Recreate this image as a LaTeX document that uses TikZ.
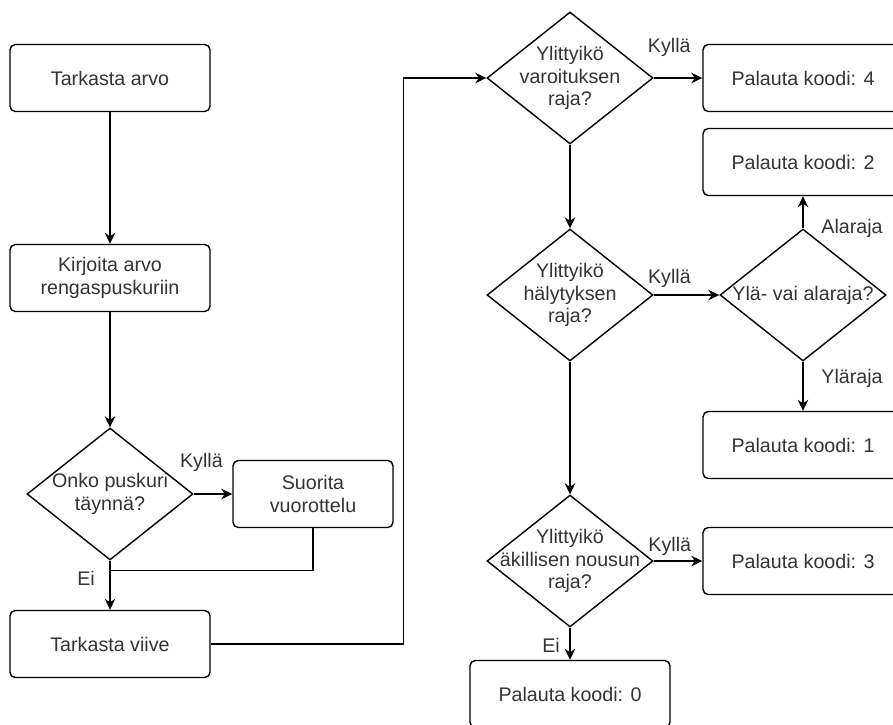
\documentclass[tikz,border=0pt]{standalone}
\usepackage{fontspec}
\setmainfont{Liberation Sans}
\usepackage{tikz}
\usetikzlibrary{arrows.meta, positioning, shapes.geometric}
\definecolor{ink}{HTML}{333333}
\newcommand{\flowfont}{\fontsize{11.2}{13}\selectfont}

\begin{document}
\begin{tikzpicture}[
  on grid,
  box/.style={draw, line width=0.8pt, rounded corners=3pt, minimum width=4cm, minimum height=1.34cm, align=center, font=\flowfont, text=ink},
  decision/.style={draw, line width=0.8pt, diamond, minimum width=3.32cm, minimum height=2.64cm, inner sep=0pt},
  dtext/.style={align=center, font=\flowfont, text=ink, inner sep=0pt},
  lbl/.style={font=\flowfont, text=ink, inner sep=1pt},
  arrow/.style={-{Stealth[length=2.2mm, width=2.1mm, inset=0.7mm]}, line width=0.8pt},
  link/.style={line width=0.8pt}
]
\useasboundingbox (0,0) rectangle (17.86,-14.48);
\clip (0,0) rectangle (17.86,-14.48);

% left column
\node[box] (check) at (2.2,-1.56) {Tarkasta arvo};
\node[box, below=4cm of check] (write) {Kirjoita arvo\\rengaspuskuriin};
\node[decision, below=4.32cm of write, label={[dtext]center:Onko puskuri\\täynnä?}] (full) {};
\node[box, right=4.06cm of full, minimum width=3.2cm] (rotate) {Suorita\\vuorottelu};
\node[box, below=3cm of full] (delay) {Tarkasta viive};

% right column
\node[decision, right=9.2cm of check, label={[dtext]center:Ylittyikö\\varoituksen\\raja?}] (warn) {};
\node[box, right=4.66cm of warn] (code4) {Palauta koodi: 4};
\node[box, below=1.68cm of code4] (code2) {Palauta koodi: 2};
\node[decision, below=4.34cm of warn, label={[dtext]center:Ylittyikö\\hälytyksen\\raja?}] (alarm) {};
\node[decision, right=4.66cm of alarm, label={[dtext]center:Ylä- vai alaraja?}] (limit) {};
\node[box, below=3cm of limit] (code1) {Palauta koodi: 1};
\node[decision, below=5.32cm of alarm, label={[dtext]center:Ylittyikö\\äkillisen nousun\\raja?}] (spike) {};
\node[box, right=4.66cm of spike] (code3) {Palauta koodi: 3};
\node[box, below=2.66cm of spike] (code0) {Palauta koodi: 0};

% connectors
\draw[arrow] (check) -- (write);
\draw[arrow] (write) -- (full);
\draw[arrow] (full) -- node[lbl, pos=0.2, yshift=0.64cm] {Kyllä} (rotate);
\draw[arrow] (full) -- node[lbl, pos=0.35, xshift=-0.48cm] {Ei} (delay);
\draw[link] (rotate.south) |- ([yshift=-0.2cm]full.south);
\draw[arrow] (delay.east) -- ++(3.86,0) |- (warn.west);

\draw[arrow] (warn) -- node[lbl, pos=0.32, yshift=0.62cm] {Kyllä} (code4);
\draw[arrow] (warn) -- (alarm);
\draw[arrow] (alarm) -- node[lbl, pos=0.24, yshift=0.34cm] {Kyllä} (limit);
\draw[arrow] (limit.north) -- node[lbl, pos=0, xshift=0.98cm] {Alaraja} (code2.south);
\draw[arrow] (limit.south) -- node[lbl, pos=0.34, xshift=0.98cm] {Yläraja} (code1.north);
\draw[arrow] (alarm) -- (spike);
\draw[arrow] (spike) -- node[lbl, pos=0.33, yshift=0.3cm] {Kyllä} (code3);
\draw[arrow] (spike) -- node[lbl, pos=0.54, xshift=-0.38cm] {Ei} (code0);
\end{tikzpicture}
\end{document}
